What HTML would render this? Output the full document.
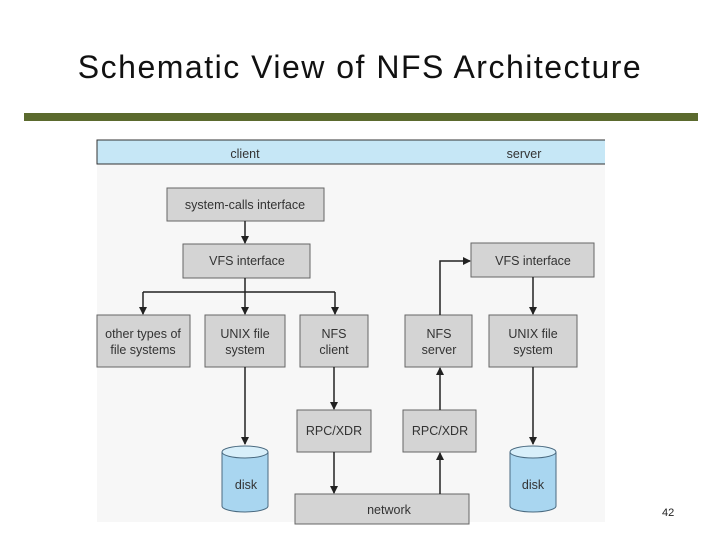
<!DOCTYPE html>
<html><head><style>
body{margin:0;width:720px;height:540px;background:#fff;overflow:hidden;position:relative;font-family:"Liberation Sans",sans-serif}
.t{position:absolute;left:0;width:720px;top:49px;text-align:center;font-size:32px;letter-spacing:1.5px;color:#111}
.bar{position:absolute;left:24px;top:113px;width:674px;height:8px;background:#5b6a2e}
.pg{position:absolute;left:662px;top:507px;font-size:11px;color:#222}
</style></head><body>
<div class="t">Schematic View of NFS Architecture</div>
<div class="bar"></div>
<svg style="position:absolute;left:0;top:0" width="720" height="540" font-family="Liberation Sans, sans-serif" font-size="12.5" fill="#333">
<defs><marker id="a" markerWidth="8" markerHeight="8" refX="7" refY="4" orient="auto" markerUnits="userSpaceOnUse"><path d="M0,0L8,4L0,8z" fill="#222"/></marker></defs>
<rect x="97" y="140" width="508" height="382" fill="#f7f7f7"/>
<rect x="97" y="140" width="508" height="24" fill="#c6e7f6"/>
<path d="M605,140H97V164H605" stroke="#333" fill="none"/>
<text x="245" y="158" text-anchor="middle">client</text>
<text x="524" y="158" text-anchor="middle">server</text>
<g fill="#d4d4d4" stroke="#666">
<rect x="167" y="188" width="157" height="33"/>
<rect x="183" y="244" width="127" height="34"/>
<rect x="471" y="243" width="123" height="34"/>
<rect x="97" y="315" width="93" height="52"/>
<rect x="205" y="315" width="80" height="52"/>
<rect x="300" y="315" width="68" height="52"/>
<rect x="405" y="315" width="67" height="52"/>
<rect x="489" y="315" width="88" height="52"/>
<rect x="297" y="410" width="74" height="42"/>
<rect x="403" y="410" width="73" height="42"/>
<rect x="295" y="494" width="174" height="30"/>
</g>
<g text-anchor="middle">
<text x="245" y="209">system-calls interface</text>
<text x="247" y="265">VFS interface</text>
<text x="533" y="265">VFS interface</text>
<text x="143" y="338">other types of</text><text x="143" y="354">file systems</text>
<text x="245" y="338">UNIX file</text><text x="245" y="354">system</text>
<text x="334" y="338">NFS</text><text x="334" y="354">client</text>
<text x="439" y="338">NFS</text><text x="439" y="354">server</text>
<text x="533" y="338">UNIX file</text><text x="533" y="354">system</text>
<text x="334" y="435">RPC/XDR</text>
<text x="440" y="435">RPC/XDR</text>
<text x="389" y="514">network</text>
</g>
<g stroke="#222" stroke-width="1.5" fill="none">
<path d="M245,221V243" marker-end="url(#a)"/>
<path d="M245,278V314" marker-end="url(#a)"/>
<path d="M143,292H335"/>
<path d="M143,292V314" marker-end="url(#a)"/>
<path d="M335,292V314" marker-end="url(#a)"/>
<path d="M440,315V261H470" marker-end="url(#a)"/>
<path d="M533,277V314" marker-end="url(#a)"/>
<path d="M245,367V444" marker-end="url(#a)"/>
<path d="M533,367V444" marker-end="url(#a)"/>
<path d="M334,367V409" marker-end="url(#a)"/>
<path d="M334,452V493" marker-end="url(#a)"/>
<path d="M440,494V453" marker-end="url(#a)"/>
<path d="M440,410V368" marker-end="url(#a)"/>
</g>
<g stroke="#4a6a80" fill="#a9d6f0">
<path d="M222,452V506A23,6 0 0 0 268,506V452Z"/>
<ellipse cx="245" cy="452" rx="23" ry="6" fill="#d8effa"/>
<path d="M510,452V506A23,6 0 0 0 556,506V452Z"/>
<ellipse cx="533" cy="452" rx="23" ry="6" fill="#d8effa"/>
</g>
<text x="246" y="489" text-anchor="middle">disk</text>
<text x="533" y="489" text-anchor="middle">disk</text>
</svg>
<div class="pg">42</div>
</body></html>
